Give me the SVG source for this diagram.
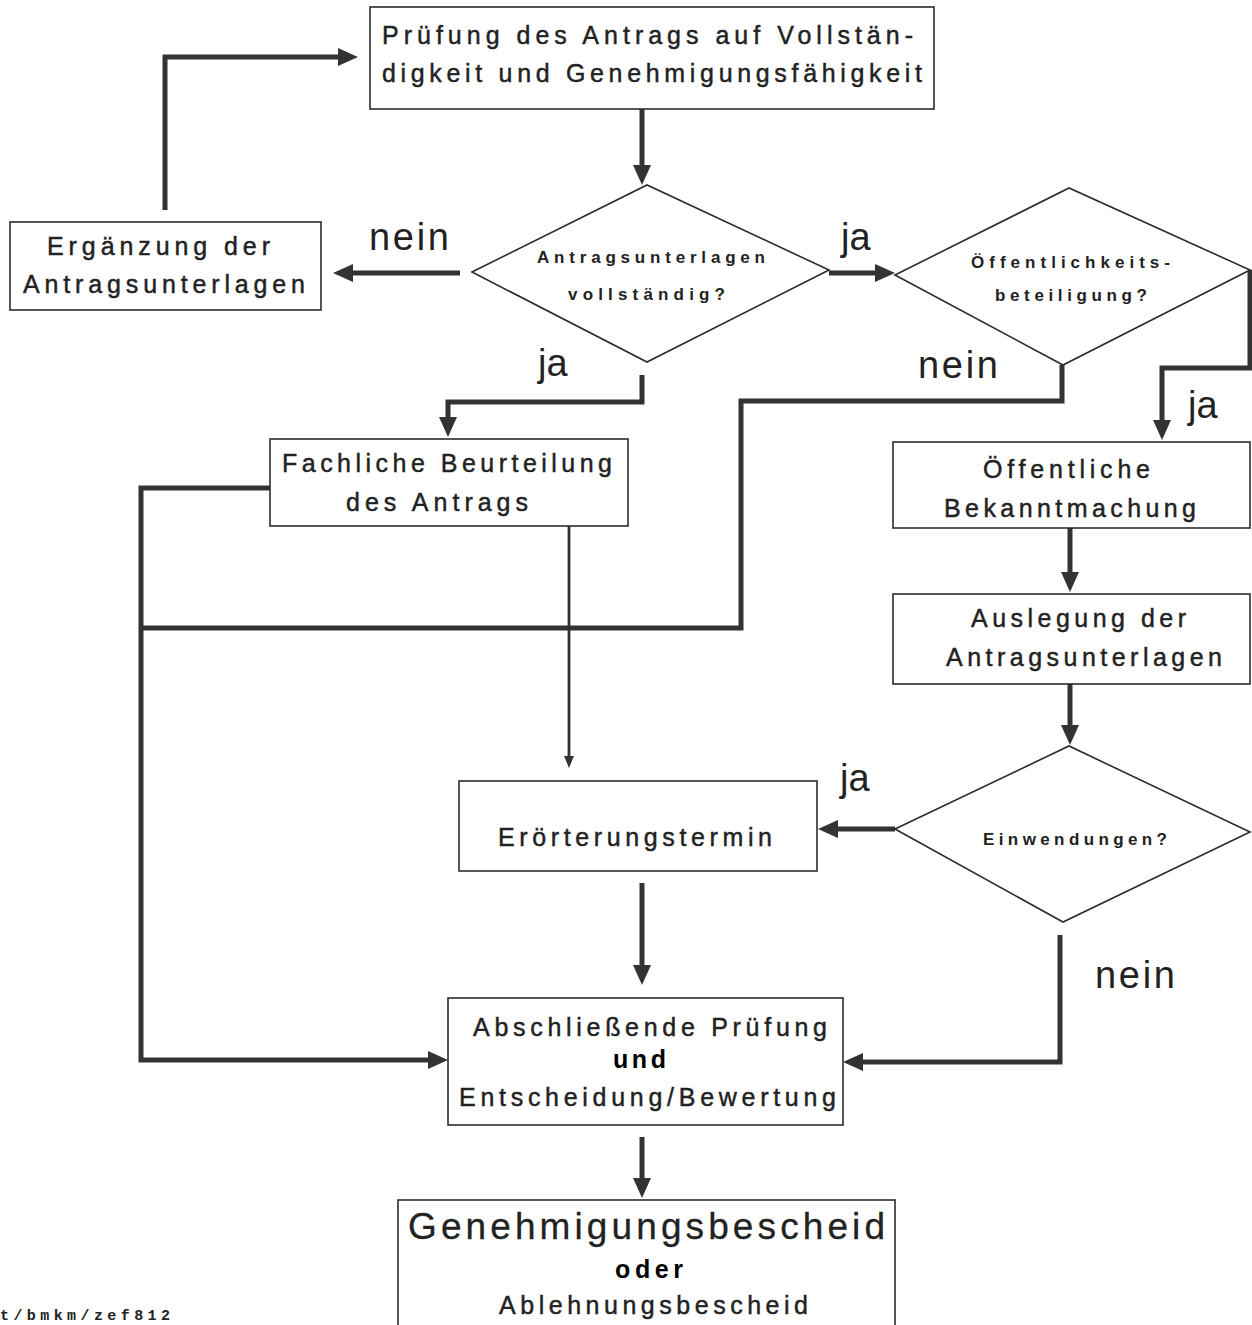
<svg xmlns="http://www.w3.org/2000/svg" width="1252" height="1325" viewBox="0 0 1252 1325">
<defs>
<style>
.box{fill:#fff;stroke:#2b2b2b;stroke-width:1.6}
.dia{fill:#fff;stroke:#2b2b2b;stroke-width:1.6}
.conn{fill:none;stroke:#333;stroke-width:5;stroke-linejoin:miter}
.thin{fill:none;stroke:#333;stroke-width:2.8}
.t{font-family:"Liberation Sans",Arial,sans-serif;font-size:25px;fill:#222;stroke:#222;stroke-width:0.45}
.d{font-family:"Liberation Sans",Arial,sans-serif;font-size:17px;font-weight:bold;fill:#222}
.b{font-weight:bold;fill:#000;stroke:none}
.big{font-family:"Liberation Sans",Arial,sans-serif;font-size:37px;fill:#222;stroke:#222;stroke-width:0.3}
.lbl{font-family:"Liberation Sans",Arial,sans-serif;font-size:38px;fill:#222}
.foot{font-family:"Liberation Mono","Courier New",monospace;font-size:15px;font-weight:bold;fill:#222}
</style>
<marker id="ah" markerUnits="userSpaceOnUse" markerWidth="20" markerHeight="18" refX="10" refY="9" orient="auto">
<path d="M0,0 L20,9 L0,18 z" fill="#333"/>
</marker>
<marker id="ahs" markerUnits="userSpaceOnUse" markerWidth="12" markerHeight="10" refX="6" refY="5" orient="auto">
<path d="M0,0 L12,5 L0,10 z" fill="#333"/>
</marker>
</defs>
<rect width="1252" height="1325" fill="#fff"/>

<g id="connectors">
<path class="conn" d="M642,109 V175" marker-end="url(#ah)"/>
<path class="conn" d="M460,273 H343" marker-end="url(#ah)"/>
<path class="conn" d="M165,210 V57 H348" marker-end="url(#ah)"/>
<path class="conn" d="M829,273 H885" marker-end="url(#ah)"/>
<path class="conn" d="M1250,270 V368 H1162 V430" marker-end="url(#ah)"/>
<path class="conn" d="M1062,365 V401 H741 V628 H141"/>
<path class="conn" d="M270,488 H141 V1060 H438" marker-end="url(#ah)"/>
<path class="conn" d="M642,375 V402 H448 V427" marker-end="url(#ah)"/>
<path class="thin" d="M569,526 V762" marker-end="url(#ahs)"/>
<path class="conn" d="M1070,528 V582" marker-end="url(#ah)"/>
<path class="conn" d="M1070,684 V735" marker-end="url(#ah)"/>
<path class="conn" d="M895,829 H828" marker-end="url(#ah)"/>
<path class="conn" d="M642,883 V975" marker-end="url(#ah)"/>
<path class="conn" d="M1060,935 V1062 H853" marker-end="url(#ah)"/>
<path class="conn" d="M642,1137 V1188" marker-end="url(#ah)"/>
</g>

<g id="labels">
<text class="lbl" x="369" y="250" textLength="80" lengthAdjust="spacing">nein</text>
<text class="lbl" x="841" y="250">ja</text>
<text class="lbl" x="538" y="376">ja</text>
<text class="lbl" x="918" y="378" textLength="80" lengthAdjust="spacing">nein</text>
<text class="lbl" x="1188" y="418">ja</text>
<text class="lbl" x="840" y="791">ja</text>
<text class="lbl" x="1095" y="988" textLength="80" lengthAdjust="spacing">nein</text>
</g>

<g id="pruefung">
<rect class="box" x="370" y="7" width="564" height="102"/>
<text class="t" x="382" y="44" textLength="531" lengthAdjust="spacing">Prüfung des Antrags auf Vollstän-</text>
<text class="t" x="382" y="82" textLength="540" lengthAdjust="spacing">digkeit und Genehmigungsfähigkeit</text>
</g>

<g id="vollstaendig">
<polygon class="dia" points="472,272 647,185 829,270 647,362"/>
<text class="d" x="537" y="263" textLength="228" lengthAdjust="spacing">Antragsunterlagen</text>
<text class="d" x="568" y="300" textLength="157" lengthAdjust="spacing">vollständig?</text>
</g>

<g id="oeffentlichkeit">
<polygon class="dia" points="895,275 1069,188 1250,270 1063,365"/>
<text class="d" x="971" y="268" textLength="199" lengthAdjust="spacing">Öffentlichkeits-</text>
<text class="d" x="995" y="301" textLength="152" lengthAdjust="spacing">beteiligung?</text>
</g>

<g id="ergaenzung">
<rect class="box" x="10" y="222" width="311" height="88"/>
<text class="t" x="47" y="255" textLength="223" lengthAdjust="spacing">Ergänzung der</text>
<text class="t" x="23" y="293" textLength="282" lengthAdjust="spacing">Antragsunterlagen</text>
</g>

<g id="fachliche">
<rect class="box" x="270" y="439" width="358" height="87"/>
<text class="t" x="282" y="472" textLength="330" lengthAdjust="spacing">Fachliche Beurteilung</text>
<text class="t" x="346" y="511" textLength="182" lengthAdjust="spacing">des Antrags</text>
</g>

<g id="bekanntmachung">
<rect class="box" x="893" y="442" width="357" height="86"/>
<text class="t" x="983" y="478" textLength="167" lengthAdjust="spacing">Öffentliche</text>
<text class="t" x="944" y="517" textLength="252" lengthAdjust="spacing">Bekanntmachung</text>
</g>

<g id="auslegung">
<rect class="box" x="893" y="594" width="357" height="90"/>
<text class="t" x="971" y="627" textLength="215" lengthAdjust="spacing">Auslegung der</text>
<text class="t" x="946" y="666" textLength="276" lengthAdjust="spacing">Antragsunterlagen</text>
</g>

<g id="einwendungen">
<polygon class="dia" points="895,829 1069,746 1250,832 1063,922"/>
<text class="d" x="983" y="845" textLength="184" lengthAdjust="spacing">Einwendungen?</text>
</g>

<g id="eroerterung">
<rect class="box" x="459" y="781" width="358" height="90"/>
<text class="t" x="498" y="846" textLength="274" lengthAdjust="spacing">Erörterungstermin</text>
</g>

<g id="abschliessend">
<rect class="box" x="448" y="998" width="395" height="127"/>
<text class="t" x="473" y="1036" textLength="354" lengthAdjust="spacing">Abschließende Prüfung</text>
<text class="t b" x="613" y="1068" textLength="53" lengthAdjust="spacing">und</text>
<text class="t" x="459" y="1106" textLength="377" lengthAdjust="spacing">Entscheidung/Bewertung</text>
</g>

<g id="bescheid">
<rect class="box" x="398" y="1200" width="497" height="140"/>
<text class="big" x="408" y="1239" textLength="477" lengthAdjust="spacing">Genehmigungsbescheid</text>
<text class="t b" x="615" y="1278" textLength="68" lengthAdjust="spacing">oder</text>
<text class="t" x="499" y="1314" textLength="309" lengthAdjust="spacing">Ablehnungsbescheid</text>
</g>

<text class="foot" x="0" y="1320" textLength="170" lengthAdjust="spacing">t/bmkm/zef812</text>
</svg>
